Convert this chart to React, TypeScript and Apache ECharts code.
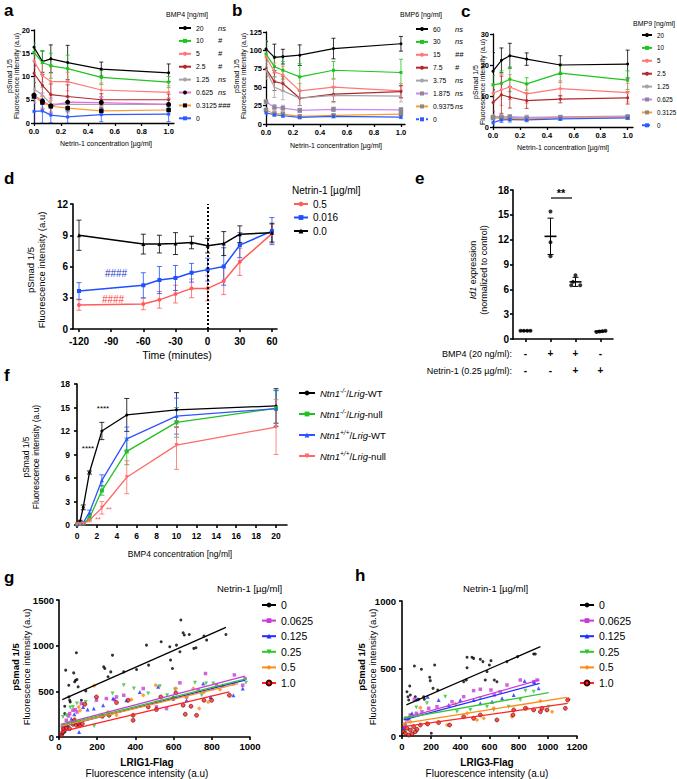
import { useEffect, useRef } from 'react';
import * as echarts from 'echarts';

const FONT = '"Liberation Sans", Arial, Helvetica, sans-serif';

// ---------------- panels a, b, c (Netrin-1 concentration) ----------------
const netrinX = [0, 0.0625, 0.125, 0.25, 0.5, 1.0];
const concTicks = [0, 0.2, 0.4, 0.6, 0.8, 1.0];

const aNames = ['20', '10', '5', '2.5', '1.25', '0.625', '0.3125', '0'];
const aSig = ['ns', '#', '#', '#', 'ns', 'ns', '###', ''];
const aMeans = [
  [16.3, 13.2, 13.8, 13.0, 11.6, 10.8],
  [15.2, 13.0, 12.3, 11.7, 9.8, 8.8],
  [13.3, 10.2, 8.9, 8.9, 7.1, 6.6],
  [10.7, 8.1, 6.1, 5.7, 5.0, 5.0],
  [7.3, 6.0, 4.1, 4.0, 4.0, 4.0],
  [6.0, 4.7, 3.7, 4.5, 4.4, 4.0],
  [5.7, 4.4, 3.6, 3.2, 2.6, 2.8],
  [2.5, 2.6, 1.7, 1.3, 1.8, 1.9],
];
const aErr = [
  [4.0, 2.3, 3.0, 3.7, 1.5, 1.9],
  [2.0, 2.5, 2.7, 2.9, 1.5, 1.2],
  [1.5, 2.6, 3.5, 2.0, 1.5, 1.4],
  [2.0, 2.3, 2.3, 2.5, 1.3, 1.2],
  [2.5, 2.8, 2.0, 1.5, 1.5, 1.5],
  [1.5, 1.8, 1.5, 1.3, 1.3, 1.0],
  [1.5, 1.3, 1.2, 1.0, 0.9, 0.8],
  [2.8, 2.6, 1.6, 1.3, 1.5, 1.6],
];
const aYTicks = [0, 5, 10, 15, 20];

const bNames = ['60', '30', '15', '7.5', '3.75', '1.875', '0.9375', '0'];
const bSig = ['ns', 'ns', '##', '#', 'ns', 'ns', 'ns', ''];
const bMeans = [
  [102, 90.5, 91.5, 93.5, 102.5, 109],
  [95, 78, 73, 64, 73, 70],
  [91, 71, 66.5, 45, 50, 45],
  [75, 57.5, 55, 35, 40.5, 44],
  [73, 50, 45, 35, 39, 38],
  [30.5, 22.5, 21.5, 18.4, 20, 19.3],
  [19, 14, 13.5, 10.3, 11.7, 13.5],
  [15, 12.6, 11.2, 9, 10.3, 9.4],
];
const bErr = [
  [10, 18, 10, 14, 14, 10],
  [18, 14, 12, 18, 12, 18],
  [10, 12, 12, 10, 12, 10],
  [10, 12, 10, 10, 10, 8],
  [12, 14, 12, 10, 10, 8],
  [3, 4, 4, 3, 3, 3],
  [3, 3, 3, 2, 2, 2],
  [3, 2, 2, 2, 2, 2],
];
const bYTicks = [0, 25, 50, 75, 100, 125];

const cNames = ['20', '10', '5', '2.5', '1.25', '0.625', '0.3125', '0'];
const cMeans = [
  [18, 21.5, 23, 21.9, 20, 20.3],
  [13.6, 14.1, 15.4, 13.9, 17.4, 15.1],
  [10.9, 12, 12.9, 10.7, 12.4, 11.1],
  [7.9, 10.4, 9.6, 8.5, 9.0, 9.4],
  [3.4, 3.3, 3.3, 3.1, 3.3, 3.5],
  [3.2, 3.1, 3.2, 2.9, 3.1, 3.3],
  [2.9, 2.8, 2.8, 2.6, 2.9, 3.0],
  [1.4, 2.3, 2.4, 2.3, 2.6, 2.9],
];
const cErr = [
  [6, 4, 4, 2, 3, 4.5],
  [3, 4, 4, 2, 3, 3],
  [3, 5, 4, 3, 2.5, 3],
  [3, 6, 3.5, 2.5, 1.2, 2],
  [0.7, 0.7, 0.7, 0.7, 0.5, 0.5],
  [0.8, 0.8, 0.8, 0.7, 0.5, 0.5],
  [0.5, 0.8, 0.7, 0.6, 0.5, 0.5],
  [0.8, 0.8, 0.8, 0.6, 0.5, 0.5],
];
const cYTicks = [0, 10, 20, 30];

// ---------------- panel d (time course) ----------------
const dTime = [-120, -60, -45, -30, -15, 0, 15, 30, 60];
const dNames = ['0.5', '0.016', '0.0'];
const dMeans = [
  [2.3, 2.4, 2.8, 3.35, 3.9, 3.9, 4.6, 6.45, 9.15],
  [3.65, 4.2, 4.7, 4.9, 5.4, 5.7, 6.0, 8.05, 9.4],
  [9.0, 8.15, 8.15, 8.2, 8.3, 8.0, 8.2, 9.1, 9.25],
];
const dErr = [
  [0.5, 0.55, 0.8, 0.85, 0.9, 1.2, 1.3, 1.3, 0.9],
  [0.8, 1.2, 1.3, 1.2, 0.9, 1.1, 1.8, 1.2, 1.3],
  [1.45, 0.95, 0.85, 1.05, 0.6, 0.7, 1.15, 0.8, 0.9],
];
const dXTicks = [-120, -90, -60, -30, 0, 30, 60];
const dYTicks = [0, 3, 6, 9, 12];

// ---------------- panel e (Id1 expression) ----------------
const eBmp = ['-', '+', '+', '-'];
const eNet = ['-', '-', '+', '+'];
const eValues = [
  [1.0, 1.0, 1.0, 1.0],
  [15.4, 11.7, 10.0],
  [7.7, 6.9, 6.5, 6.5],
  [0.85, 0.9, 0.95, 1.0],
];
const eJitter = [
  [-0.2, -0.07, 0.07, 0.2],
  [0, 0, 0],
  [0, -0.1, -0.17, 0.19],
  [-0.16, -0.04, 0.08, 0.2],
];
const eMean = [1.0, 12.4, 6.9, 0.92];
const eSD = [0.04, 2.2, 0.55, 0.08];
const eYTicks = [0, 3, 6, 9, 12, 15, 18];
const eXTicks = [0, 1, 2, 3];

// ---------------- panel f (BMP4 dose response) ----------------
const fX = [0, 0.3125, 0.625, 1.25, 2.5, 5, 10, 20];
const fGeno = [
  { ntn: '-/-', lrig: 'WT' },
  { ntn: '-/-', lrig: 'null' },
  { ntn: '+/+', lrig: 'WT' },
  { ntn: '+/+', lrig: 'null' },
];
const fMeans = [
  [0.2, 0.5, 2.25, 6.7, 12.0, 14.05, 14.7, 15.2],
  [0.1, 0.15, 0.2, 0.9, 4.4, 9.4, 13.1, 14.9],
  [0.1, 0.2, 0.3, 1.6, 5.7, 11.0, 13.9, 14.85],
  [0.1, 0.1, 0.15, 0.6, 2.2, 6.1, 10.2, 12.5],
];
const fErr = [
  [0.1, 0.1, 0.3, 0.2, 1.1, 2.1, 2.2, 2.2],
  [0.1, 0.1, 0.1, 0.3, 0.6, 1.7, 1.9, 2.3],
  [0.1, 0.1, 0.1, 0.3, 0.7, 1.5, 2.3, 2.3],
  [0.1, 0.1, 0.1, 0.2, 0.8, 2.1, 3.1, 3.5],
];
const fXTicks = [0, 2, 4, 6, 8, 10, 12, 14, 16, 18, 20];
const fYTicks = [0, 3, 6, 9, 12, 15, 18];

// ---------------- panels g, h (scatter + fits) ----------------
const ghNames = ['0', '0.0625', '0.125', '0.25', '0.5', '1.0'];

const g0 = [[9, 18], [21, 37], [30, 55], [38, 117], [30, 256], [30, 337], [35, 732], [51, 567], [52, 439], [56, 402], [59, 384], [77, 702], [82, 604], [87, 622], [91, 922], [94, 629], [100, 549], [117, 402], [140, 505], [234, 768], [240, 750], [257, 659], [271, 713], [280, 896], [339, 713], [406, 739], [458, 1006], [469, 787], [535, 1043], [580, 988], [584, 842], [594, 750], [615, 1006], [633, 933], [638, 1281], [650, 1142], [656, 1116], [682, 1123], [706, 970], [717, 977], [759, 1105], [773, 1061], [874, 1123]];
const g1 = [[21, 91], [38, 183], [56, 256], [73, 293], [94, 274], [117, 366], [196, 402], [248, 421], [301, 439], [339, 457], [441, 531], [510, 329], [563, 311], [633, 593], [668, 439], [729, 512], [767, 695], [804, 531], [825, 567], [913, 585], [918, 680], [962, 567], [974, 640], [50, 230], [85, 300], [290, 410]];
const g2 = [[12, 37], [30, 73], [47, 128], [65, 201], [105, 55], [126, 329], [182, 311], [231, 348], [283, 421], [353, 402], [423, 494], [519, 549], [598, 439], [668, 402], [755, 585], [794, 439], [857, 567], [913, 457], [962, 531], [80, 250], [150, 300]];
const g3 = [[21, 220], [38, 238], [59, 322], [73, 329], [94, 366], [140, 384], [184, 117], [280, 476], [339, 567], [392, 531], [467, 476], [528, 556], [566, 457], [607, 520], [664, 439], [712, 593], [747, 457], [770, 585], [808, 585], [979, 593], [45, 150]];
const g4 = [[17, 55], [30, 110], [56, 146], [82, 201], [103, 329], [184, 560], [257, 274], [301, 238], [379, 410], [441, 457], [507, 567], [510, 384], [612, 531], [668, 439], [703, 531], [734, 311], [759, 494], [781, 384], [843, 520], [110, 290]];
const g5 = [[12, 18], [21, 55], [24, 91], [38, 99], [56, 91], [73, 139], [91, 128], [108, 128], [122, 146], [135, 359], [196, 439], [227, 227], [262, 238], [301, 377], [362, 402], [388, 183], [388, 238], [467, 329], [510, 300], [533, 439], [598, 421], [612, 483], [650, 348], [661, 249], [691, 337], [720, 238], [759, 402], [799, 402], [892, 457], [80, 180], [100, 150]];
const gPoints = [g0, g1, g2, g3, g4, g5];
const gFits = [
  [[17, 410], [874, 1200]],
  [[9, 139], [974, 666]],
  [[9, 110], [974, 622]],
  [[9, 128], [983, 640]],
  [[9, 117], [938, 585]],
  [[9, 55], [892, 494]],
];
const gXTicks = [0, 200, 400, 600, 800, 1000];
const gYTicks = [0, 500, 1000, 1500];

const h0 = [[34, 328], [41, 291], [46, 267], [53, 370], [57, 304], [85, 519], [91, 291], [98, 267], [114, 272], [133, 494], [149, 291], [153, 272], [190, 435], [194, 410], [224, 526], [213, 353], [245, 341], [201, 20], [423, 402], [441, 415], [446, 506], [446, 583], [480, 583], [491, 575], [537, 568], [555, 551], [571, 415], [583, 477], [599, 526], [610, 558], [633, 415], [651, 402], [720, 551], [793, 588], [903, 607], [914, 607]];
const h1 = [[18, 69], [34, 119], [57, 156], [85, 272], [98, 168], [137, 180], [183, 205], [240, 217], [343, 254], [423, 291], [491, 336], [537, 346], [610, 341], [633, 304], [674, 328], [720, 378], [811, 415], [903, 402], [926, 415]];
const h2 = [[11, 57], [23, 94], [46, 131], [69, 168], [107, 272], [176, 291], [251, 267], [320, 230], [400, 267], [491, 267], [537, 242], [617, 254], [686, 279], [766, 304], [841, 407], [907, 398], [937, 353]];
const h3 = [[11, 32], [27, 131], [57, 143], [98, 212], [171, 242], [297, 291], [377, 180], [469, 193], [537, 279], [583, 217], [629, 193], [731, 217], [811, 267], [846, 336], [903, 328], [1006, 217]];
const h4 = [[16, 89], [57, 106], [126, 210], [167, 94], [309, 81], [366, 237], [446, 168], [514, 119], [560, 131], [629, 205], [754, 143], [857, 205], [949, 259], [1029, 180], [1143, 272]];
const h5 = [[11, 32], [23, 20], [34, 57], [46, 7], [57, 44], [69, 15], [80, 69], [91, 32], [103, 49], [126, 81], [176, 89], [251, 99], [327, 81], [423, 143], [491, 131], [537, 156], [651, 119], [761, 156], [766, 193], [846, 205], [903, 193], [949, 180], [960, 205], [994, 193], [1120, 205], [1136, 267]];
const hPoints = [h0, h1, h2, h3, h4, h5];
const hFits = [
  [[30, 230], [949, 662]],
  [[11, 131], [944, 415]],
  [[11, 119], [944, 390]],
  [[11, 131], [1006, 321]],
  [[11, 94], [1131, 286]],
  [[11, 69], [1136, 242]],
];
const hXTicks = [0, 200, 400, 600, 800, 1000, 1200];
const hYTicks = [0, 500, 1000];

// ---------------- styles ----------------
const C = {
  black: '#000000', green: '#1fc41f', pink: '#ff7878', dred: '#b3292b', grey: '#a5a5a5',
  mag: '#e56ee5', orange: '#ff9a2e', blue: '#2b5cff', purple: '#c884ff', sq: '#8a8a8a',
};
const aStyle = [
  { line: C.black, mark: C.black, symbol: 'circle', size: 3 },
  { line: C.green, mark: C.green, symbol: 'rect', size: 3 },
  { line: C.pink, mark: C.pink, symbol: 'circle', size: 3 },
  { line: C.dred, mark: C.dred, symbol: 'circle', size: 3 },
  { line: C.grey, mark: C.grey, symbol: 'circle', size: 2 },
  { line: C.mag, mark: '#000', symbol: 'circle', size: 5 },
  { line: C.orange, mark: '#000', symbol: 'rect', size: 4.5 },
  { line: C.blue, mark: C.blue, symbol: 'rect', size: 3 },
];
const bcStyle = [
  { line: C.black, mark: C.black, symbol: 'circle', size: 3 },
  { line: C.green, mark: C.green, symbol: 'rect', size: 3 },
  { line: C.pink, mark: C.pink, symbol: 'circle', size: 3 },
  { line: C.dred, mark: C.dred, symbol: 'circle', size: 3 },
  { line: C.grey, mark: C.grey, symbol: 'circle', size: 2 },
  { line: C.purple, mark: C.sq, symbol: 'rect', size: 4.5 },
  { line: C.orange, mark: C.sq, symbol: 'rect', size: 4.5 },
  { line: C.blue, mark: C.blue, symbol: 'rect', size: 3 },
];
const dStyle = [
  { line: '#ff5c5c', mark: '#ff5c5c', symbol: 'circle', size: 4 },
  { line: '#1f4fff', mark: '#1f4fff', symbol: 'rect', size: 4 },
  { line: '#000000', mark: '#000000', symbol: 'triangle', size: 4 },
];
const fStyle = [
  { line: '#000000', mark: '#000000', symbol: 'circle', size: 3, rotate: 0 },
  { line: '#22c022', mark: '#22c022', symbol: 'rect', size: 4, rotate: 0 },
  { line: '#2f54ff', mark: '#2f54ff', symbol: 'triangle', size: 4, rotate: 0 },
  { line: '#ff6a6a', mark: '#ff6a6a', symbol: 'triangle', size: 4, rotate: 180 },
];
const ghStyle = [
  { color: '#000000', symbol: 'circle', size: 3, rotate: 0, border: 'transparent' },
  { color: '#c93bd6', symbol: 'rect', size: 3.5, rotate: 0, border: 'transparent' },
  { color: '#1f2dff', symbol: 'triangle', size: 4, rotate: 0, border: 'transparent' },
  { color: '#30c630', symbol: 'triangle', size: 4, rotate: 180, border: 'transparent' },
  { color: '#ff8a14', symbol: 'diamond', size: 4.5, rotate: 0, border: 'transparent' },
  { color: '#ff2424', symbol: 'circle', size: 4, rotate: 0, border: '#4a0000' },
];

// ---------------- helpers ----------------
const errRender = (color: string, cap: number, lw: number) => (params: any, api: any) => {
  const x = api.value(0);
  const y = api.value(1);
  const e = api.value(2);
  const top = api.coord([x, y + e]);
  const bot = api.coord([x, y - e]);
  const st = { stroke: color, lineWidth: lw };
  return {
    type: 'group',
    children: [
      { type: 'line', shape: { x1: top[0], y1: top[1], x2: bot[0], y2: bot[1] }, style: st },
      { type: 'line', shape: { x1: top[0] - cap, y1: top[1], x2: top[0] + cap, y2: top[1] }, style: st },
      { type: 'line', shape: { x1: bot[0] - cap, y1: bot[1], x2: bot[0] + cap, y2: bot[1] }, style: st },
    ],
  };
};

function linePanel(prefix: string, gi: number, xs: number[], names: string[], means: number[][], errs: number[][], styles: any[], lw: number, cap: number, errAlpha = 1) {
  const out: any[] = [];
  names.forEach((n, i) => {
    out.push({
      type: 'custom', name: prefix + ':' + n + ':err', xAxisIndex: gi, yAxisIndex: gi, silent: true, clip: true, z: 2,
      renderItem: errRender(styles[i].line, cap, 0.8),
      itemStyle: { opacity: errAlpha },
      encode: { x: 0, y: 1 },
      data: xs.map((x, j) => [x, means[i][j], errs[i][j]]),
    });
  });
  names.forEach((n, i) => {
    out.push({
      type: 'line', name: prefix + ':' + n, xAxisIndex: gi, yAxisIndex: gi, z: 3,
      symbol: styles[i].symbol, symbolSize: styles[i].size, symbolRotate: styles[i].rotate || 0, showSymbol: true,
      lineStyle: { color: styles[i].line, width: lw },
      itemStyle: { color: styles[i].mark },
      data: xs.map((x, j) => [x, means[i][j]]),
    });
  });
  return out;
}

const plain = (v: number) => String(v);

function vAxis(gi: number, min: number, max: number, ticks: number[], fs: number, margin: number, lw: number, formatter: any = plain, extraLabel: any = {}) {
  return {
    type: 'value', gridIndex: gi, min, max,
    axisLine: { show: true, onZero: false, lineStyle: { color: '#000', width: lw } },
    axisTick: { show: true, inside: false, length: 3, customValues: ticks, lineStyle: { color: '#000', width: lw } },
    axisLabel: { show: true, customValues: ticks, color: '#000', fontSize: fs, fontWeight: 'bold', fontFamily: FONT, margin, formatter, ...extraLabel },
    splitLine: { show: false },
  };
}

const txt = (x: number, y: number, text: string, fs: number, opts: any = {}) => ({
  type: 'text', x, y, silent: true, rotation: opts.rotation || 0,
  style: {
    text, fontSize: fs, fontFamily: FONT, fill: opts.fill || '#000', fontWeight: opts.bold ? 'bold' : 'normal',
    fontStyle: opts.italic ? 'italic' : 'normal',
    align: opts.align || 'left', verticalAlign: opts.va || 'middle', lineHeight: opts.lh, rich: opts.rich,
  },
});
const vtxt = (x: number, y: number, text: string, fs: number, lh: number, rich?: any) =>
  txt(x, y, text, fs, { rotation: Math.PI / 2, align: 'center', va: 'middle', lh, rich });

const nameOf = (s: string) => s.split(':')[1];

function sigLegend(prefix: string, names: string[], sig: string[] | null, left: number, top: number, iw: number, dashedLast: boolean, fs: number, nameW: number) {
  return {
    left, top, orient: 'vertical', padding: 0, itemWidth: iw, itemHeight: 5, itemGap: 2.9, selectedMode: false,
    data: names.map((n, i) => (dashedLast && i === names.length - 1
      ? { name: prefix + ':' + n, lineStyle: { type: [3, 2] } } : prefix + ':' + n)),
    formatter: (nm: string) => {
      const n = nameOf(nm);
      const i = names.indexOf(n);
      return sig ? `{n|${n}}{s|${sig[i]}}` : `{n|${n}}`;
    },
    textStyle: {
      fontFamily: FONT, fontSize: fs, color: '#000', lineHeight: 10,
      rich: { n: { width: nameW, fontSize: fs, lineHeight: 10, fontFamily: FONT }, s: { fontStyle: 'italic', fontSize: 7.5, lineHeight: 10, fontFamily: FONT } },
    },
  };
}

function ghSeries(prefix: string, gi: number, pts: number[][][], fits: number[][][]) {
  const out: any[] = [];
  pts.forEach((p, i) => {
    const s = ghStyle[i];
    out.push({
      type: 'scatter', name: prefix + ':' + ghNames[i] + ':pts', xAxisIndex: gi, yAxisIndex: gi, z: 2,
      symbol: s.symbol, symbolSize: s.size, symbolRotate: s.rotate,
      itemStyle: { color: s.color, borderColor: s.border, borderWidth: s.border === 'transparent' ? 0 : 0.7 },
      data: p,
    });
  });
  fits.forEach((f, i) => {
    const s = ghStyle[i];
    out.push({
      type: 'line', name: prefix + ':' + ghNames[i], xAxisIndex: gi, yAxisIndex: gi, z: 3,
      symbol: s.symbol, symbolRotate: s.rotate, showSymbol: false, symbolSize: s.size,
      lineStyle: { color: s.color, width: 1.3 },
      itemStyle: { color: s.color, borderColor: s.border, borderWidth: s.border === 'transparent' ? 0 : 0.7 },
      data: f,
    });
  });
  return out;
}

function ghLegend(prefix: string, left: number) {
  return {
    left, top: 599, orient: 'vertical', padding: 0, itemWidth: 14, itemHeight: 6, itemGap: 3.6, selectedMode: false,
    data: ghNames.map((n) => prefix + ':' + n),
    formatter: (nm: string) => nameOf(nm),
    textStyle: { fontFamily: FONT, fontSize: 10.5, color: '#000', lineHeight: 12 },
  };
}

export default function App() {
  const ref = useRef<HTMLDivElement>(null);
  useEffect(() => {
    document.body.style.margin = '0';
    if (!ref.current) return;
    const chart = echarts.init(ref.current, null, { renderer: 'svg' });

    const fmt1 = (v: number) => v.toFixed(1);
    const eFmt = (v: number) => {
      const i = Math.round(v);
      return `${eBmp[i]}\n${eNet[i]}`;
    };

    const series: any[] = [
      ...linePanel('a', 0, netrinX, aNames, aMeans, aErr, aStyle, 1.2, 2),
      ...linePanel('b', 1, netrinX, bNames, bMeans, bErr, bcStyle, 1.2, 2),
      ...linePanel('c', 2, netrinX, cNames, cMeans, cErr, bcStyle, 1.2, 2),
      ...linePanel('d', 3, dTime, dNames, dMeans, dErr, dStyle, 1.5, 2.5, 0.75),
      ...linePanel('f', 5, fX, fGeno.map((_, i) => String(i)), fMeans, fErr, fStyle, 1.3, 2.5),
      ...ghSeries('g', 6, gPoints, gFits),
      ...ghSeries('h', 7, hPoints, hFits),
    ];

    // dotted vertical line at time 0 (panel d)
    series.push({
      type: 'line', name: 'd:zero', xAxisIndex: 3, yAxisIndex: 3, data: [], silent: true,
      markLine: {
        symbol: 'none', silent: true, label: { show: false },
        lineStyle: { type: [2, 2], color: '#000', width: 2 },
        data: [{ xAxis: 0 }],
      },
    });

    // panel e: points and mean ± SD
    series.push({
      type: 'scatter', name: 'e:pts', xAxisIndex: 4, yAxisIndex: 4, symbolSize: 4, z: 3,
      itemStyle: { color: '#000' },
      data: eValues.flatMap((vals, g) => vals.map((v, k) => [g + eJitter[g][k], v])),
    });
    series.push({
      type: 'custom', name: 'e:mean', xAxisIndex: 4, yAxisIndex: 4, silent: true, z: 4,
      encode: { x: 0, y: 1 },
      data: eMean.map((m, g) => [g, m, eSD[g]]),
      renderItem: (params: any, api: any) => {
        const x = api.value(0), m = api.value(1), s = api.value(2);
        const pm = api.coord([x, m]);
        const pt = api.coord([x, m + s]);
        const pb = api.coord([x, m - s]);
        const st = { stroke: '#000', lineWidth: 1 };
        return {
          type: 'group', children: [
            { type: 'line', shape: { x1: pm[0] - 6, y1: pm[1], x2: pm[0] + 6, y2: pm[1] }, style: { stroke: '#000', lineWidth: 1.6 } },
            { type: 'line', shape: { x1: pt[0], y1: pt[1], x2: pb[0], y2: pb[1] }, style: st },
            { type: 'line', shape: { x1: pt[0] - 3, y1: pt[1], x2: pt[0] + 3, y2: pt[1] }, style: st },
            { type: 'line', shape: { x1: pb[0] - 3, y1: pb[1], x2: pb[0] + 3, y2: pb[1] }, style: st },
          ],
        };
      },
    });

    const fLegendFmt = (nm: string) => {
      const g = fGeno[Number(nameOf(nm))];
      return `{i|Ntn1}{s|${g.ntn}}{r|/}{i|Lrig}{r|-${g.lrig}}`;
    };

    const option: any = {
      animation: false,
      backgroundColor: '#ffffff',
      textStyle: { fontFamily: FONT },
      grid: [
        { left: 34, top: 30, width: 140, height: 93 },
        { left: 266, top: 32, width: 139, height: 92 },
        { left: 493, top: 34, width: 140, height: 93 },
        { left: 73, top: 204, width: 204, height: 125 },
        { left: 513, top: 190, width: 100, height: 149 },
        { left: 77, top: 384, width: 210, height: 141 },
        { left: 59, top: 600, width: 191, height: 137 },
        { left: 402, top: 601, width: 175, height: 135 },
      ],
      xAxis: [
        vAxis(0, 0, 1.04, concTicks, 7.5, 4, 1.3, fmt1),
        vAxis(1, 0, 1.03, concTicks, 7.5, 4, 1.3, fmt1),
        vAxis(2, 0, 1.04, concTicks, 7.5, 4, 1.3, fmt1),
        vAxis(3, -125.6, 64.7, dXTicks, 10, 7, 1.6),
        vAxis(4, -0.5, 3.5, eXTicks, 10, 6, 1.6, eFmt, { lineHeight: 17, verticalAlign: 'top' }),
        vAxis(5, 0, 21.1, fXTicks, 8.5, 6, 1.6),
        vAxis(6, 0, 1000, gXTicks, 9.5, 4, 1.6),
        vAxis(7, 0, 1200, hXTicks, 9.5, 5, 1.6),
      ],
      yAxis: [
        vAxis(0, 0, 20, aYTicks, 7.5, 4, 1.3),
        vAxis(1, 0, 125, bYTicks, 7.5, 4, 1.3),
        vAxis(2, 0, 30, cYTicks, 7.5, 4, 1.3),
        vAxis(3, 0, 12, dYTicks, 10, 5, 1.6),
        vAxis(4, 0, 18, eYTicks, 10, 4, 1.6),
        vAxis(5, 0, 18, fYTicks, 8.5, 7, 1.6),
        vAxis(6, 0, 1500, gYTicks, 9.5, 5, 1.6),
        vAxis(7, 0, 1000, hYTicks, 9.5, 6, 1.6),
      ],
      legend: [
        sigLegend('a', aNames, aSig, 178, 23, 12, false, 6.8, 22),
        sigLegend('b', bNames, bSig, 415, 24, 12, true, 6.8, 22),
        sigLegend('c', cNames, null, 641, 30, 10, true, 6.3, 20),
        {
          left: 293, top: 198.5, orient: 'vertical', padding: 0, itemWidth: 14, itemHeight: 6, itemGap: 2.5, selectedMode: false,
          data: dNames.map((n) => 'd:' + n), formatter: (nm: string) => nameOf(nm),
          textStyle: { fontFamily: FONT, fontSize: 10, color: '#000', lineHeight: 11 },
        },
        {
          left: 298, top: 387, orient: 'vertical', padding: 0, itemWidth: 16, itemHeight: 6, itemGap: 9, selectedMode: false,
          data: fGeno.map((_, i) => 'f:' + i), formatter: fLegendFmt,
          textStyle: {
            fontFamily: FONT, fontSize: 9.5, color: '#000', lineHeight: 12,
            rich: {
              i: { fontStyle: 'italic', fontSize: 9.5, lineHeight: 12, fontFamily: FONT },
              r: { fontSize: 9.5, lineHeight: 12, fontFamily: FONT },
              s: { fontStyle: 'italic', fontSize: 6.5, lineHeight: 7, verticalAlign: 'top', fontFamily: FONT },
            },
          },
        },
        ghLegend('g', 261),
        ghLegend('h', 579),
      ],
      series,
      graphic: [
        // panel letters
        txt(4, 10, 'a', 17, { bold: true }),
        txt(232, 10, 'b', 17, { bold: true }),
        txt(461, 11, 'c', 17, { bold: true }),
        txt(4, 178, 'd', 17, { bold: true }),
        txt(415, 178, 'e', 17, { bold: true }),
        txt(4, 375, 'f', 17, { bold: true }),
        txt(4, 577, 'g', 17, { bold: true }),
        txt(355, 575, 'h', 17, { bold: true }),
        // a
        txt(166, 14, 'BMP4 [ng/ml]', 7),
        txt(106, 143, 'Netrin-1 concentration [µg/ml]', 7, { align: 'center' }),
        vtxt(13, 76, 'pSmad 1/5\nFluorescence intensity (a.u)', 7, 7.5),
        // b
        txt(400, 14, 'BMP6 [ng/ml]', 7),
        txt(336, 145, 'Netrin-1 concentration [µg/ml]', 7, { align: 'center' }),
        vtxt(240, 76, 'pSmad 1/5\nFluorescence intensity (a.u)', 7, 7.5),
        // c
        txt(633, 23, 'BMP9 [ng/ml]', 7),
        txt(563, 147, 'Netrin-1 concentration [µg/ml]', 7, { align: 'center' }),
        vtxt(479, 82, 'pSmad 1/5\nFluorescence intensity (a.u)', 7, 7.5),
        // d
        txt(292, 190, 'Netrin-1 [µg/ml]', 10),
        txt(177, 355, 'Time (minutes)', 10.5, { align: 'center' }),
        vtxt(36, 270, 'pSmad 1/5\nFluorescence intensity (a.u)', 9.5, 10.5),
        txt(116, 273, '####', 10, { align: 'center', fill: '#2233cc' }),
        txt(113, 299, '####', 10, { align: 'center', fill: '#ff3030' }),
        // e
        vtxt(478, 270, '{i|Id1}{n| expression}\n{n|(normalized to control)}', 9, 11, {
          i: { fontStyle: 'italic', fontSize: 9, fontFamily: FONT, lineHeight: 11 },
          n: { fontSize: 9, fontFamily: FONT, lineHeight: 11 },
        }),
        txt(512, 354, 'BMP4 (20 ng/ml):', 9, { align: 'right' }),
        txt(512, 371, 'Netrin-1 (0.25 µg/ml):', 9, { align: 'right' }),
        txt(561, 193, '**', 11, { align: 'center', bold: true }),
        { type: 'line', silent: true, shape: { x1: 551, y1: 198, x2: 572, y2: 198 }, style: { stroke: '#000', lineWidth: 1.2 } },
        // f
        vtxt(31, 457, 'pSmad 1/5\nFluorescence intensity (a.u)', 8.5, 10),
        txt(180, 554, 'BMP4 concentration [ng/ml]', 8.5, { align: 'center' }),
        txt(103, 408, '****', 8, { align: 'center' }),
        txt(88, 448, '****', 8, { align: 'center' }),
        txt(109, 509, '**', 7, { align: 'center', fill: '#ff5050' }),
        txt(98, 519, '**', 7, { align: 'center', fill: '#ff5050' }),
        // g
        txt(217, 588, 'Netrin-1 [µg/ml]', 9.5),
        vtxt(21, 667, '{b|pSmad 1/5}\n{n|Fluorescence intensity (a.u)}', 9.5, 10.5, {
          b: { fontWeight: 'bold', fontSize: 9.5, fontFamily: FONT, lineHeight: 10.5 },
          n: { fontSize: 9.5, fontFamily: FONT, lineHeight: 10.5 },
        }),
        txt(147, 768, '{b|LRIG1-Flag}\n{n|Fluorescence intensity (a.u)}', 10, {
          align: 'center', lh: 11,
          rich: { b: { fontWeight: 'bold', fontSize: 10, fontFamily: FONT, lineHeight: 11 }, n: { fontSize: 10, fontFamily: FONT, lineHeight: 11 } },
        }),
        // h
        txt(463, 588, 'Netrin-1 [µg/ml]', 9.5),
        vtxt(367, 667, '{b|pSmad 1/5}\n{n|Fluorescence intensity (a.u)}', 9.5, 10.5, {
          b: { fontWeight: 'bold', fontSize: 9.5, fontFamily: FONT, lineHeight: 10.5 },
          n: { fontSize: 9.5, fontFamily: FONT, lineHeight: 10.5 },
        }),
        txt(487, 768, '{b|LRIG3-Flag}\n{n|Fluorescence intensity (a.u)}', 10, {
          align: 'center', lh: 11,
          rich: { b: { fontWeight: 'bold', fontSize: 10, fontFamily: FONT, lineHeight: 11 }, n: { fontSize: 10, fontFamily: FONT, lineHeight: 11 } },
        }),
      ],
    };

    chart.setOption(option);
    return () => chart.dispose();
  }, []);

  return <div ref={ref} style={{ width: 677, height: 779, position: 'absolute', left: 0, top: 0, background: '#fff' }} />;
}
